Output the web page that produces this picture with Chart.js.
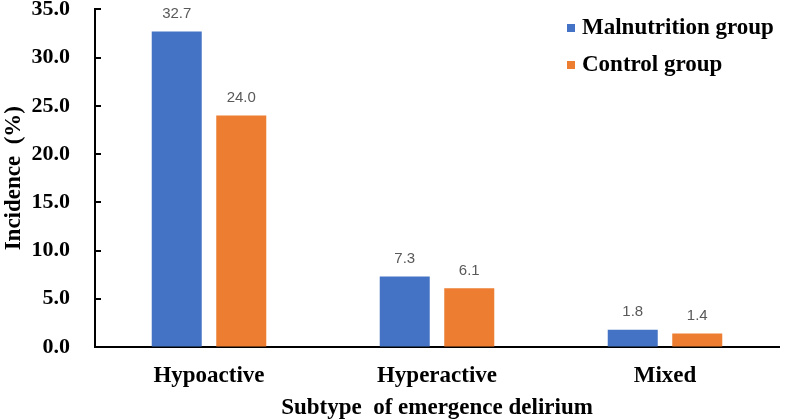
<!DOCTYPE html>
<html>
<head>
<meta charset="utf-8">
<script src="https://cdn.jsdelivr.net/npm/chart.js@4"></script>
<style>
  html, body { margin: 0; padding: 0; background: #fff; }
  #wrap { width: 787px; height: 420px; }
</style>
</head>
<body>
<div id="wrap"><canvas id="deliriumChart"></canvas></div>
<script>
const subtypes = ["Hypoactive", "Hyperactive", "Mixed"];
const malnutrition = [32.7, 7.3, 1.8];
const control = [24.0, 6.1, 1.4];
const seriesNames = ["Malnutrition group", "Control group"];

const serif = "'Liberation Serif', 'Times New Roman', serif";

// value labels above each bar, inner y ticks and the legend box in the top right
const extras = {
    id: "extras",
    afterDatasetsDraw(chart) {
        const ctx = chart.ctx;
        ctx.save();
        ctx.font = "15px 'Liberation Sans', Arial, sans-serif";
        ctx.fillStyle = "#595959";
        ctx.textAlign = "center";
        ctx.textBaseline = "bottom";
        chart.data.datasets.forEach((ds, i) => {
            chart.getDatasetMeta(i).data.forEach((bar, j) => {
                ctx.fillText(ds.data[j].toFixed(1), bar.x, bar.y - 10);
            });
        });

        const y = chart.scales.y;
        ctx.strokeStyle = "#000";
        ctx.lineWidth = 2;
        y.ticks.forEach(t => {
            const py = Math.round(y.getPixelForValue(t.value));
            ctx.beginPath();
            ctx.moveTo(y.right, py);
            ctx.lineTo(y.right + 6, py);
            ctx.stroke();
        });

        ctx.font = "bold 23px " + serif;
        ctx.textAlign = "left";
        ctx.textBaseline = "middle";
        chart.data.datasets.forEach((ds, i) => {
            const ly = 28 + i * 37;
            ctx.fillStyle = ds.backgroundColor;
            ctx.fillRect(567, ly - 4, 8, 8);
            ctx.fillStyle = "#000";
            ctx.fillText(ds.label, 582, ly);
        });
        ctx.restore();
    }
};

new Chart(document.getElementById("deliriumChart"), {
    type: "bar",
    data: {
        labels: subtypes,
        datasets: [
            { label: seriesNames[0], data: malnutrition, backgroundColor: "#4472C4" },
            { label: seriesNames[1], data: control, backgroundColor: "#ED7D31" },
        ],
    },
    options: {
        responsive: true,
        maintainAspectRatio: false,
        animation: false,
        categoryPercentage: 0.566,
        barPercentage: 0.775,
        layout: { padding: { left: 0, right: 8, top: 0, bottom: 0 } },
        plugins: {
            legend: { display: false },
            tooltip: { enabled: false },
        },
        scales: {
            x: {
                afterFit: scale => { scale.height = 73; },
                grid: { display: true, drawOnChartArea: false, color: "transparent", tickLength: 6 },
                border: { color: "#000", width: 2 },
                ticks: { color: "#000", padding: 9, font: { family: serif, size: 23, weight: "bold" } },
                title: {
                    display: true,
                    text: "Subtype  of emergence delirium",
                    color: "#000",
                    padding: { top: 0, bottom: 0 },
                    font: { family: serif, size: 23, weight: "bold", lineHeight: 1 },
                },
            },
            y: {
                min: 0,
                max: 35,
                afterFit: scale => { scale.width = 95; },
                grid: { display: true, drawOnChartArea: false, color: "transparent", tickLength: 25 },
                border: { color: "#000", width: 2 },
                ticks: {
                    stepSize: 5,
                    color: "#000",
                    padding: 0,
                    font: { family: serif, size: 22, weight: "bold", lineHeight: 0.85 },
                    callback: v => v.toFixed(1),
                },
                title: {
                    display: true,
                    text: "Incidence  (%)",
                    color: "#000",
                    padding: { top: 0, bottom: 0 },
                    font: { family: serif, size: 23, weight: "bold" },
                },
            },
        },
    },
    plugins: [extras],
});
</script>
</body>
</html>
